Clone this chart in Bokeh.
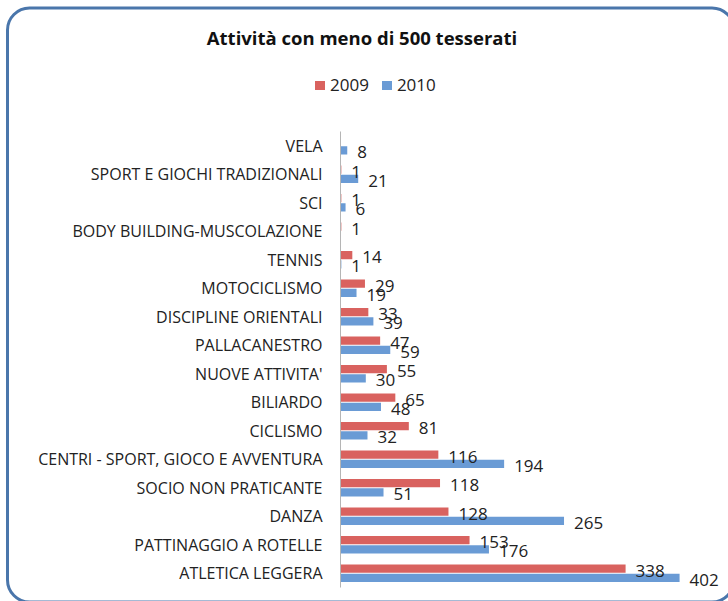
from bokeh.plotting import figure
from bokeh.layouts import column
from bokeh.models import ColumnDataSource, FactorRange, Range1d, LabelSet, Div
from bokeh.transform import dodge
from bokeh.core.properties import value
from bokeh.embed import file_html
from bokeh.resources import INLINE

categories = ["VELA", "SPORT E GIOCHI TRADIZIONALI", "SCI", "BODY BUILDING-MUSCOLAZIONE",
              "TENNIS", "MOTOCICLISMO", "DISCIPLINE ORIENTALI", "PALLACANESTRO",
              "NUOVE ATTIVITA'", "BILIARDO", "CICLISMO", "CENTRI - SPORT, GIOCO E AVVENTURA",
              "SOCIO NON PRATICANTE", "DANZA", "PATTINAGGIO A ROTELLE", "ATLETICA LEGGERA"]
v2009 = [None, 1, 1, 1, 14, 29, 33, 47, 55, 65, 81, 116, 118, 128, 153, 338]
v2010 = [8, 21, 6, None, 1, 19, 39, 59, 30, 48, 32, 194, 51, 265, 176, 402]
series = ["2009", "2010"]
colors = ["#d9625f", "#6a9bd5"]
title_text = "Attività con meno di 500 tesserati"

FONT = "Open Sans"
W = 728
HEAD_H = 131
MAIN_H = 470

# ---- header: title + legend (HTML)
legend_html = ""
for i, (name, col) in enumerate(zip(series, colors)):
    ml = "0" if i == 0 else "13px"
    legend_html += (f"<span style='display:inline-block;width:10px;height:9px;background:{col};"
                    f"margin-left:{ml};margin-right:5px'></span><span>{name}</span>")
header_html = (
    f"<div style='position:relative;width:{W}px;height:{HEAD_H}px;margin:0;padding:0;"
    f"font-family:\"{FONT}\";color:#222'>"
    f"<div style='position:absolute;left:0;top:26px;width:724px;text-align:center;font-size:18.5px;"
    f"font-weight:bold;line-height:24px;color:#111;white-space:nowrap'>{title_text}</div>"
    f"<div style='position:absolute;left:315px;top:75px;height:20px;line-height:20px;font-size:17px;"
    f"display:flex;align-items:center;white-space:nowrap'>{legend_html}</div>"
    f"</div>"
)
header = Div(text=header_html, width=W, height=HEAD_H, margin=0,
             styles={"overflow": "hidden", "padding": "0"})

# ---- main chart
p = figure(width=W, height=MAIN_H, output_backend="svg", toolbar_location=None,
           y_range=FactorRange(factors=categories[::-1], range_padding=0),
           x_range=Range1d(0, 460), x_axis_location=None,
           min_border_left=340, min_border_right=0, min_border_top=0, min_border_bottom=14)
p.outline_line_color = None
p.background_fill_color = None
p.border_fill_color = None
p.grid.visible = False
p.yaxis.major_tick_line_color = None
p.yaxis.minor_tick_line_color = None
p.yaxis.major_tick_out = 0
p.yaxis.major_tick_in = 0
p.yaxis.major_label_standoff = 18
p.yaxis.axis_line_color = "#b5b5b5"
p.yaxis.major_label_text_font = FONT
p.yaxis.major_label_text_font_size = "16px"
p.yaxis.major_label_text_color = "#222222"

for vals, col, off in [(v2009, colors[0], 0.165), (v2010, colors[1], -0.165)]:
    src = ColumnDataSource(dict(
        cat=categories,
        v=[float("nan") if v is None else v for v in vals],
        lx=[0 if v is None else v for v in vals],
        lbl=["" if v is None else str(v) for v in vals],
    ))
    p.hbar(y=dodge("cat", off, range=p.y_range), right="v", left=0, height=0.29,
           source=src, fill_color=col, line_color=None)
    p.add_layout(LabelSet(x="lx", y=dodge("cat", off, range=p.y_range), text="lbl", source=src,
                          x_offset=10, y_offset=-2, text_baseline="middle", text_font=value(FONT),
                          text_font_size=value("17px"), text_color="#222222"))

frame_svg = ("data:image/svg+xml;utf8,<svg xmlns='http://www.w3.org/2000/svg' width='760' height='620'>"
             "<rect x='7.5' y='8' width='726.5' height='594' rx='22' ry='22' fill='white' "
             "stroke='%234a76ab' stroke-width='3'/></svg>")
layout = column(header, p, spacing=0, width=W, height=HEAD_H + MAIN_H,
                styles={"background-image": f"url(\"{frame_svg}\")",
                        "background-repeat": "no-repeat", "overflow": "hidden"})

open("out.html", "w").write(file_html(layout, INLINE))
